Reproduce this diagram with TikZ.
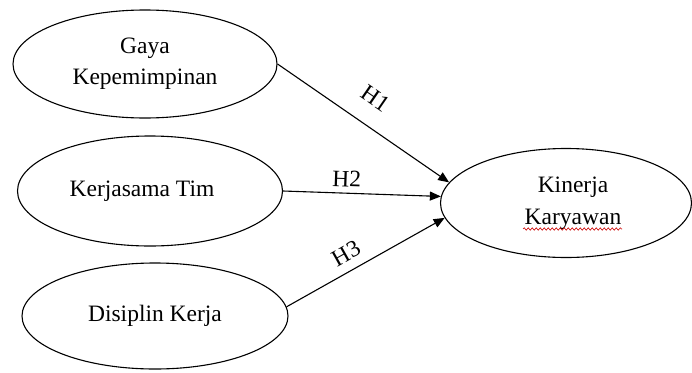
\documentclass[tikz,border=0pt]{standalone}
\usepackage{fontspec}
\setmainfont{Liberation Serif}
\usetikzlibrary{shapes.geometric,arrows.meta,decorations.pathmorphing}
\tikzset{
  var/.style={draw,ellipse,line width=1.1pt,inner sep=0pt,align=center,
    font=\fontsize{23.5}{32}\selectfont},
  path arrow/.style={line width=1.1pt,-{Triangle[length=11pt,width=9pt]}},
  hlabel/.style={font=\fontsize{23.5}{28}\selectfont,inner sep=0pt},
}
\begin{document}
\begin{tikzpicture}[x=1pt,y=-1pt]
\useasboundingbox (0,0) rectangle (692,372);
\node[var,minimum width=264pt,minimum height=108pt] (gaya) at (145,64) {Gaya\\[-1pt]Kepemimpinan};
\node[var,minimum width=265pt,minimum height=110pt] (tim) at (150,191) {\hspace*{-16pt}Kerjasama Tim};
\node[var,minimum width=266pt,minimum height=106pt] (dis) at (155,316) {Disiplin Kerja};
\node[var,minimum width=251pt,minimum height=109pt] (kin) at (566,203) {\hspace*{14pt}Kinerja\\\hspace*{14pt}Karyawan};
\coordinate (wl) at (523,229);
\coordinate (wr) at (622,229);
\draw[red!80!black,line width=0.6pt,decorate,decoration={snake,amplitude=1.2pt,segment length=4pt}] (wl) -- (wr);
\draw[path arrow] (gaya.east) -- (kin.170) node[hlabel,pos=0.48,above=19pt,sloped] (h1) {H1};
\draw[path arrow] (tim.east) -- (kin.177) node[hlabel,pos=0.4,above=6pt,sloped] (h2) {H2};
\draw[path arrow] (dis.4) -- (kin.187) node[hlabel,pos=0.43,above=9pt,sloped] (h3) {H3};
\end{tikzpicture}
\end{document}
